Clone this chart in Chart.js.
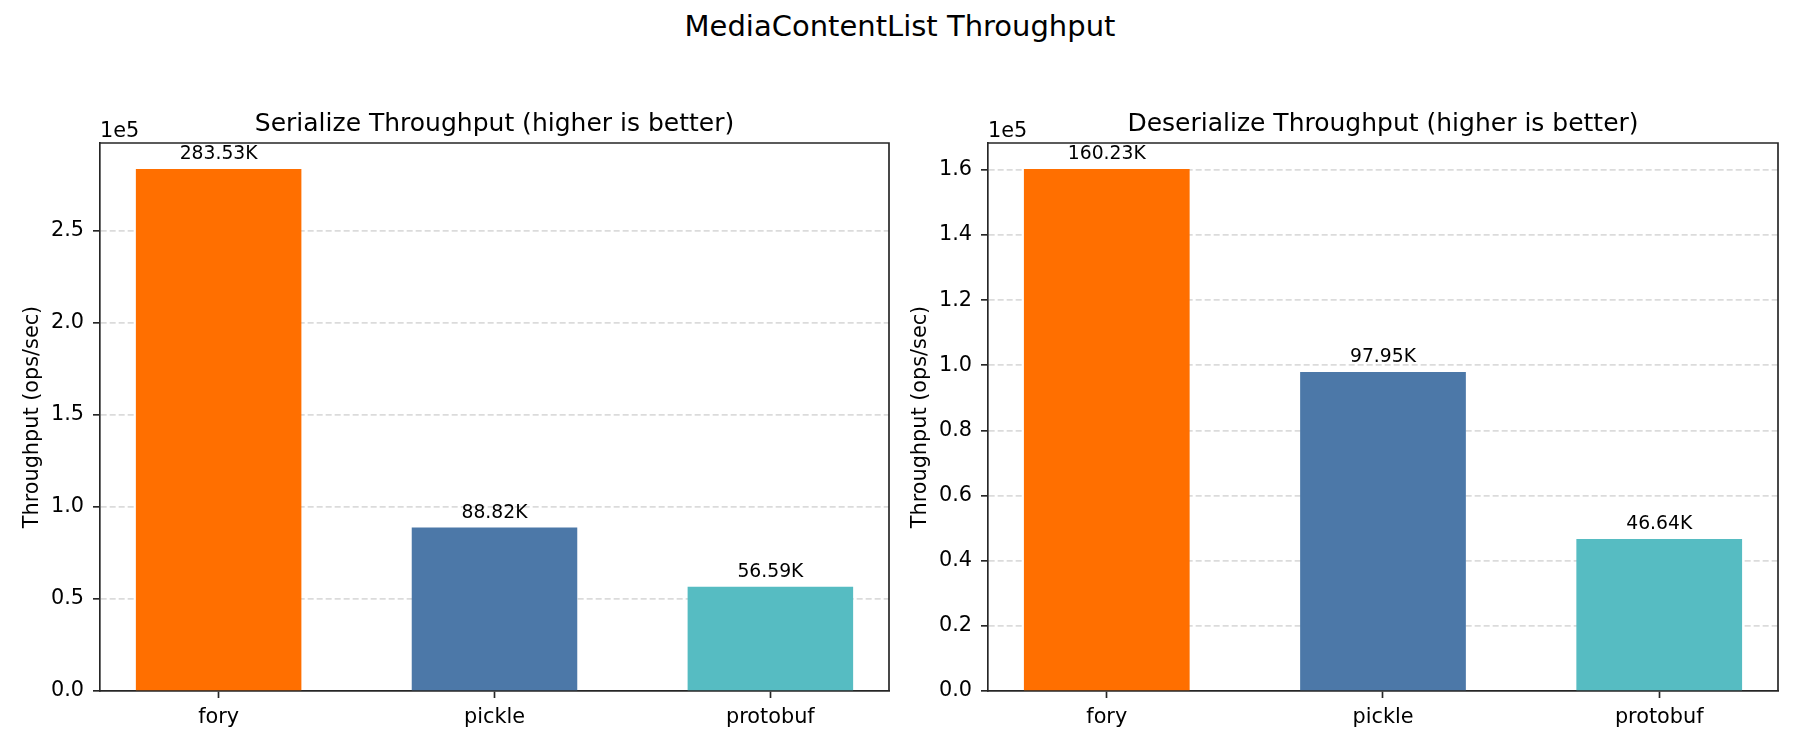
<!DOCTYPE html>
<html>
<head>
<meta charset="utf-8">
<title>MediaContentList Throughput</title>
<script src="https://cdn.jsdelivr.net/npm/chart.js@4.4.1/dist/chart.umd.min.js"></script>
<style>
  html, body { margin: 0; padding: 0; background: #fff; }
  body { width: 1800px; height: 750px; position: relative; overflow: hidden; font-family: 'DejaVu Sans', sans-serif; }
  #suptitle { position: absolute; left: 0; top: 12px; width: 1800px; text-align: center; font-size: 29px; line-height: 29px; color: #000; }
  canvas { position: absolute; top: 0; }
  #chart-ser { left: 0; }
  #chart-deser { left: 888px; }
</style>
</head>
<body>
<div id="suptitle">MediaContentList Throughput</div>
<canvas id="chart-ser" width="900" height="750"></canvas>
<canvas id="chart-deser" width="912" height="750"></canvas>

<script>
// --- Data ---
const categories = ['fory', 'pickle', 'protobuf'];
const serializeValues = [283530, 88820, 56590];
const deserializeValues = [160230, 97950, 46640];
const serializeTicks = [0, 50000, 100000, 150000, 200000, 250000];
const deserializeTicks = [0, 20000, 40000, 60000, 80000, 100000, 120000, 140000, 160000];
const barColors = ['#FF6F00', '#4C78A8', '#56BCC2'];

// --- Style ---
const FONT = 'DejaVu Sans';
const AXIS_COLOR = '#262626';
const LINE_W = 1.67;

// top + right spines, subtitle, offset text, value labels
const decorPlugin = {
  id: 'decor',
  afterDraw(chart, args, opts) {
    const { ctx, chartArea: a } = chart;
    ctx.save();
    ctx.strokeStyle = AXIS_COLOR;
    ctx.lineWidth = LINE_W;
    ctx.beginPath();
    ctx.moveTo(a.left, a.top);
    ctx.lineTo(a.right, a.top);
    ctx.lineTo(a.right, a.bottom);
    ctx.stroke();

    ctx.fillStyle = '#000';
    ctx.textBaseline = 'alphabetic';

    // subplot title
    ctx.font = `25px '${FONT}'`;
    ctx.textAlign = 'center';
    ctx.fillText(opts.subtitle, (a.left + a.right) / 2, 131);

    // axis offset text
    ctx.font = `20.8px '${FONT}'`;
    ctx.textAlign = 'left';
    ctx.fillText('1e5', a.left, a.top - 6);

    // bar value labels
    ctx.font = `18.75px '${FONT}'`;
    ctx.textAlign = 'center';
    const meta = chart.getDatasetMeta(0);
    const vals = chart.data.datasets[0].data;
    meta.data.forEach((bar, i) => {
      ctx.fillText((vals[i].y / 1000).toFixed(2) + 'K', bar.x, bar.y - 10);
    });
    ctx.restore();
  }
};

function makeChart(canvasId, values, yTicks, subtitle, padRight) {
  const tickFont = { family: FONT, size: 20.8 };
  return new Chart(document.getElementById(canvasId), {
    type: 'bar',
    data: {
      datasets: [{
        data: values.map((v, i) => ({ x: i, y: v })),
        backgroundColor: barColors,
        borderWidth: 0,
        barPercentage: 0.6,
        categoryPercentage: 1
      }]
    },
    options: {
      responsive: false,
      animation: false,
      devicePixelRatio: 1,
      layout: { padding: { left: 0, top: 143, right: padRight, bottom: 0 } },
      plugins: {
        legend: { display: false },
        tooltip: { enabled: false },
        title: { display: false },
        decor: { subtitle }
      },
      scales: {
        x: {
          type: 'linear',
          min: -0.43,
          max: 2.43,
          bounds: 'data',
          offset: false,
          afterBuildTicks: s => { s.ticks = categories.map((c, i) => ({ value: i })); },
          afterFit: s => { s.height = 59; },
          ticks: {
            callback: v => categories[v],
            font: tickFont,
            color: '#000',
            padding: 7,
            maxRotation: 0,
            autoSkip: false
          },
          grid: {
            offset: false,
            drawOnChartArea: false,
            drawTicks: true,
            tickLength: 7,
            tickColor: AXIS_COLOR,
            tickWidth: LINE_W
          },
          border: { color: AXIS_COLOR, width: LINE_W }
        },
        y: {
          min: 0,
          max: Math.max(...values) * 1.05,
          bounds: 'data',
          z: 1,
          afterBuildTicks: s => { s.ticks = yTicks.map(v => ({ value: v })); },
          afterFit: s => { s.width = 100; },
          ticks: {
            callback: v => (v / 1e5).toFixed(1),
            font: tickFont,
            color: '#000',
            padding: 9,
            autoSkip: false
          },
          grid: {
            color: c => (c.tick && c.tick.value === 0) ? 'rgba(0,0,0,0)' : 'rgba(176,176,176,0.45)',
            lineWidth: LINE_W,
            tickLength: 7,
            tickColor: AXIS_COLOR,
            tickWidth: LINE_W,
            tickBorderDash: []
          },
          border: { color: AXIS_COLOR, width: LINE_W, dash: [6, 3] },
          title: {
            display: true,
            text: 'Throughput (ops/sec)',
            font: tickFont,
            color: '#000',
            padding: { top: 20, bottom: 0 }
          }
        }
      }
    },
    plugins: [decorPlugin]
  });
}

makeChart('chart-ser', serializeValues, serializeTicks, 'Serialize Throughput (higher is better)', 11);
makeChart('chart-deser', deserializeValues, deserializeTicks, 'Deserialize Throughput (higher is better)', 22);
</script>
</body>
</html>
